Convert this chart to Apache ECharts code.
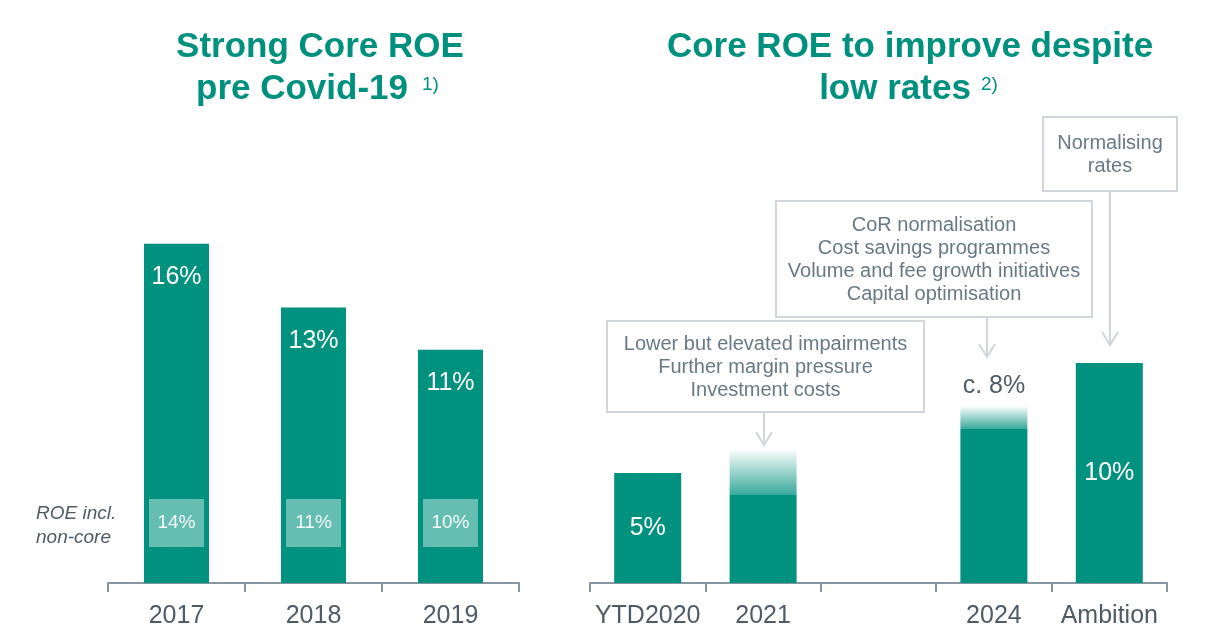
<!DOCTYPE html>
<html>
<head>
<meta charset="utf-8">
<script src="https://cdn.jsdelivr.net/npm/echarts@6/dist/echarts.min.js"></script>
<style>
html,body{margin:0;padding:0;background:#fff;}
#chart{width:1216px;height:641px;}
</style>
</head>
<body>
<div id="chart"></div>
<script>
// ---- data ----
const leftYears = ['2017', '2018', '2019'];
const coreROE = [16, 13, 11];
const nonCoreROE = [14, 11, 10];

const rightCats = ['YTD2020', '2021', '', '2024', 'Ambition'];
const rightBase = [5, 4, null, 7, 10];
const rightTarget = [null, 6, null, 8, null];
const rightLabels = ['5%', '', '', 'c. 8%', '10%'];

const leftTitle = ['Strong Core ROE', 'pre Covid-19'];
const rightTitle = ['Core ROE to improve despite', 'low rates'];
const nonCoreNote = ['ROE incl.', 'non-core'];
const note1 = ['Lower but elevated impairments', 'Further margin pressure', 'Investment costs'];
const note2 = ['CoR normalisation', 'Cost savings programmes', 'Volume and fee growth initiatives', 'Capital optimisation'];
const note3 = ['Normalising', 'rates'];

// ---- styles ----
const FONT = '"Liberation Sans", Arial, sans-serif';
const TEAL = '#00917F';
const TITLE = '#00907E';
const AXIS_TXT = '#4F5B66';
const NOTE_TXT = '#687986';
const BOX_LINE = '#D0D6DB';

const chart = echarts.init(document.getElementById('chart'), null, {renderer: 'canvas'});

function titleText(x, y, text, align) {
  return {type: 'text', x: x, y: y, style: {text: text, fill: TITLE, font: 'bold 35px ' + FONT, align: align || 'center', verticalAlign: 'middle'}};
}
function supText(x, y, text) {
  return {type: 'text', x: x, y: y, style: {text: text, fill: TITLE, font: '19px ' + FONT, align: 'left', verticalAlign: 'middle'}};
}
function noteBox(x, y, w, h, lines) {
  return [
    {type: 'rect', shape: {x: x, y: y, width: w, height: h}, style: {fill: '#fff', stroke: BOX_LINE, lineWidth: 2}},
    {type: 'text', x: x + w / 2, y: y + h / 2 + 1, style: {text: lines.join('\n'), fill: NOTE_TXT, font: '20px ' + FONT, align: 'center', verticalAlign: 'middle', lineHeight: 23.3}}
  ];
}
function arrow(x, y1, y2) {
  return [
    {type: 'line', shape: {x1: x, y1: y1, x2: x, y2: y2}, style: {stroke: BOX_LINE, lineWidth: 2}},
    {type: 'polyline', shape: {points: [[x - 8, y2 - 13], [x, y2], [x + 8, y2 - 13]]}, style: {stroke: BOX_LINE, lineWidth: 2, fill: null}}
  ];
}

const graphics = [
  titleText(320, 47, leftTitle[0]),
  titleText(302, 89, leftTitle[1]),
  supText(422, 85, '1)'),
  titleText(910, 47, rightTitle[0]),
  titleText(895, 89, rightTitle[1]),
  supText(981, 85, '2)'),
  {type: 'text', x: 36, y: 514, style: {text: nonCoreNote[0], fill: AXIS_TXT, font: 'italic 19px ' + FONT, align: 'left', verticalAlign: 'middle'}},
  {type: 'text', x: 36, y: 538, style: {text: nonCoreNote[1], fill: AXIS_TXT, font: 'italic 19px ' + FONT, align: 'left', verticalAlign: 'middle'}}
]
  .concat(noteBox(607, 321, 317, 91, note1))
  .concat(arrow(764, 412, 445))
  .concat(noteBox(776, 201, 316, 116, note2))
  .concat(arrow(987, 317, 357))
  .concat(noteBox(1043, 117, 134, 74, note3))
  .concat(arrow(1110, 191, 345));

const axisCommon = {
  type: 'category',
  boundaryGap: true,
  axisLine: {show: true, lineStyle: {color: '#8796A0', width: 2}},
  axisTick: {show: true, length: 9, lineStyle: {color: '#8796A0', width: 2}},
  axisLabel: {color: AXIS_TXT, fontSize: 25, fontFamily: FONT, margin: 21, interval: 0}
};

const option = {
  animation: false,
  backgroundColor: '#fff',
  textStyle: {fontFamily: FONT},
  grid: [
    {left: 108, right: 1216 - 519, top: 583 - 424, bottom: 641 - 583},
    {left: 590, right: 1216 - 1167, top: 583 - 440, bottom: 641 - 583}
  ],
  xAxis: [
    Object.assign({gridIndex: 0, data: leftYears}, axisCommon),
    Object.assign({gridIndex: 1, data: rightCats}, axisCommon)
  ],
  yAxis: [
    {gridIndex: 0, type: 'value', min: 0, max: 20, show: false},
    {gridIndex: 1, type: 'value', min: 0, max: 20, show: false}
  ],
  graphic: graphics,
  series: [
    {
      type: 'bar', xAxisIndex: 0, yAxisIndex: 0, data: coreROE, barWidth: 65,
      itemStyle: {color: TEAL},
      label: {show: true, position: 'insideTop', distance: 21, formatter: '{c}%', color: '#fff', fontSize: 25, fontFamily: FONT}
    },
    {
      type: 'custom', xAxisIndex: 0, yAxisIndex: 0, z: 5,
      data: nonCoreROE.map((v, i) => [i, v]),
      renderItem: function (params, api) {
        const p = api.coord([api.value(0), 0]);
        const w = 55, h = 48;
        return {
          type: 'rect',
          shape: {x: p[0] - w / 2, y: p[1] - 84, width: w, height: h},
          style: {fill: '#66BDB2'},
          textContent: {style: {text: api.value(1) + '%', fill: '#F4FBFA', fontSize: 19, fontFamily: FONT}},
          textConfig: {position: 'inside'}
        };
      }
    },
    {
      type: 'bar', xAxisIndex: 1, yAxisIndex: 1, stack: 'r', barWidth: 67,
      data: rightBase.map(v => v == null ? '-' : v),
      itemStyle: {color: TEAL},
      label: {
        show: true, position: 'inside', color: '#fff', fontSize: 25, fontFamily: FONT,
        formatter: p => rightTarget[p.dataIndex] == null ? rightLabels[p.dataIndex] : ''
      }
    },
    {
      type: 'bar', xAxisIndex: 1, yAxisIndex: 1, stack: 'r', barWidth: 67,
      data: rightTarget.map((t, i) => t == null ? '-' : t - rightBase[i]),
      itemStyle: {
        color: {type: 'linear', x: 0, y: 0, x2: 0, y2: 1, colorStops: [
          {offset: 0, color: 'rgba(0,145,127,0.04)'},
          {offset: 1, color: 'rgba(0,145,127,0.78)'}
        ]}
      },
      label: {
        show: true, position: 'top', distance: 8, color: AXIS_TXT, fontSize: 25, fontFamily: FONT,
        formatter: p => rightLabels[p.dataIndex]
      }
    }
  ]
};
chart.setOption(option);
</script>
</body>
</html>
